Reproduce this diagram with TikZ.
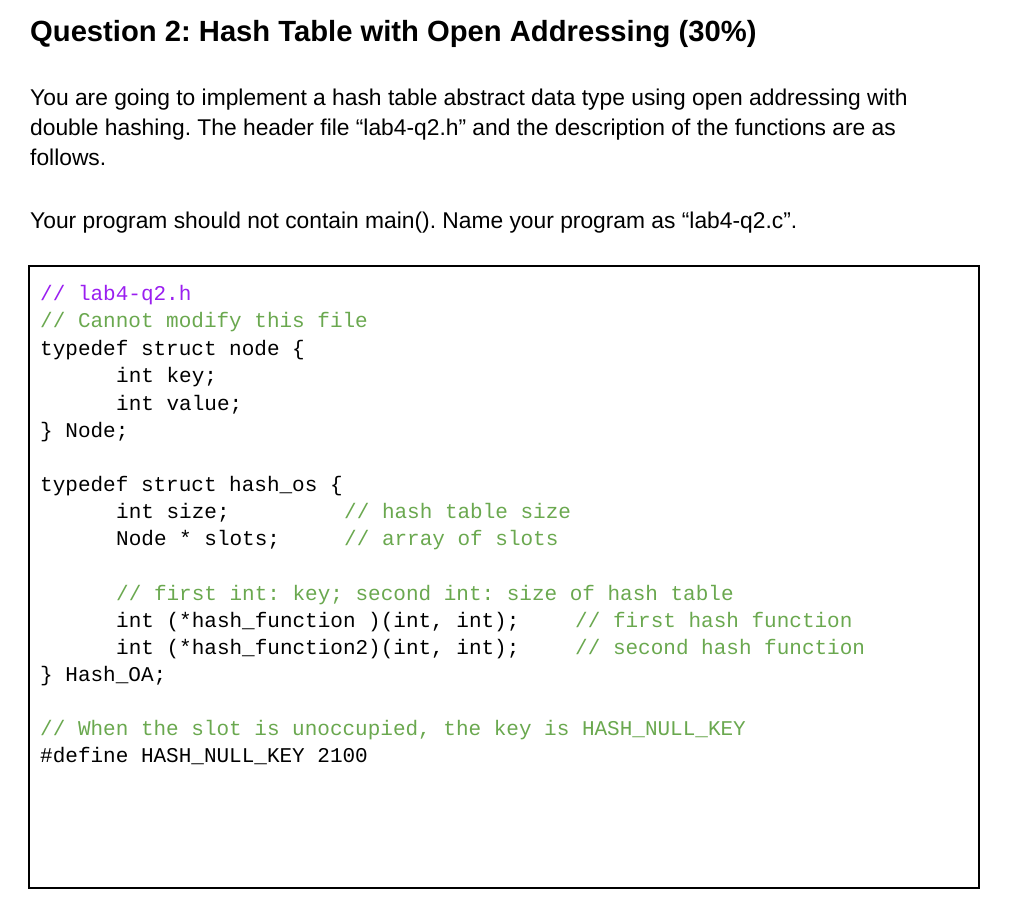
\documentclass[tikz,border=0pt]{standalone}
\usepackage{fontspec}
\setmainfont{Liberation Sans}
\newfontfamily\codefont{Liberation Mono}
\definecolor{cpurple}{HTML}{9A1EF0}
\definecolor{cgreen}{HTML}{6AA84F}
\frenchspacing
\begin{document}
\begin{tikzpicture}[x=1pt,y=-1pt,
  txt/.style={anchor=base west,inner sep=0pt,font=\fontsize{22.8}{26}\selectfont},
  cd/.style={anchor=base west,inner sep=0pt,font=\codefont\fontsize{21}{25}\selectfont},
  cmt/.style={cd,text=cgreen}]
\useasboundingbox (0,0) rectangle (1024,920);
\node[anchor=base west,inner sep=0pt,font=\bfseries\fontsize{29.2}{32}\selectfont] (title) at (30,42) {Question 2: Hash Table with Open Addressing (30\%)};
\node[txt] (p1) at (30,106) {You are going to implement a hash table abstract data type using open addressing with};
\node[txt] (p2) at (30,136) {double hashing. The header file “lab4-q2.h” and the description of the functions are as};
\node[txt] (p3) at (30,166) {follows.};
\node[txt] (p4) at (30,228) {Your program should not contain main(). Name your program as “lab4-q2.c”.};
\draw[line width=1.5pt] (29,266) rectangle (979,888);
\node[cd,text=cpurple] (l1) at (40,300) {// lab4-q2.h};
\node[cmt] (l2) at (40,327) {// Cannot modify this file};
\node[cd] (l3) at (40,355) {typedef struct node \{};
\node[cd] (l4) at (116,382) {int key;};
\node[cd] (l5) at (116,410) {int value;};
\node[cd] (l6) at (40,437) {\} Node;};
\node[cd] (l7) at (40,491) {typedef struct hash\_os \{};
\node[cd] (l8) at (116,518) {int size;};
\node[cmt] (l8c) at (344,518) {// hash table size};
\node[cd] (l9) at (116,545) {Node * slots;};
\node[cmt] (l9c) at (344,545) {// array of slots};
\node[cmt] (l10) at (116,600) {// first int: key; second int: size of hash table};
\node[cd] (l11) at (116,627) {int (*hash\_function )(int, int);};
\node[cmt] (l11c) at (575,627) {// first hash function};
\node[cd] (l12) at (116,654) {int (*hash\_function2)(int, int);};
\node[cmt] (l12c) at (575,654) {// second hash function};
\node[cd] (l13) at (40,681) {\} Hash\_OA;};
\node[cmt] (l14) at (40,735) {// When the slot is unoccupied, the key is HASH\_NULL\_KEY};
\node[cd] (l15) at (40,762) {\#define HASH\_NULL\_KEY 2100};
\end{tikzpicture}
\end{document}
